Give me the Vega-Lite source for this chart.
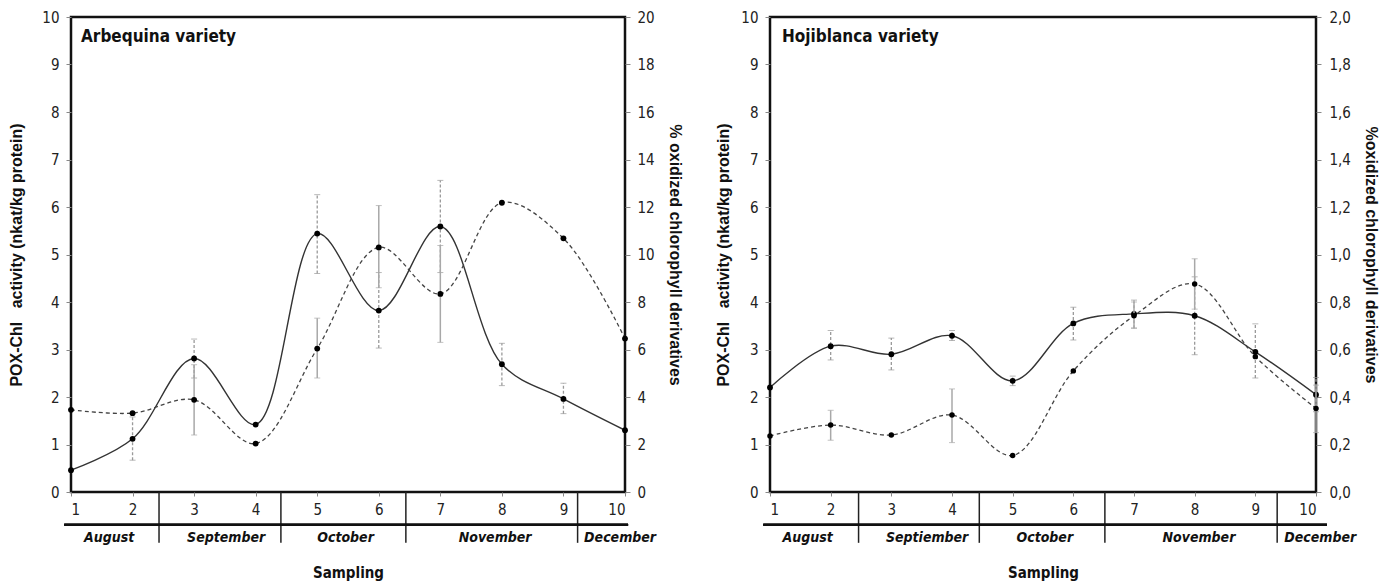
{
  "$schema": "https://vega.github.io/schema/vega-lite/v6.json",
  "padding": {"left": 7, "top": 8, "right": 5, "bottom": 4},
  "spacing": 30,
  "background": "white",
  "datasets": {
    "arb": [
      {"s": 1, "pox": 0.46, "poxLo": null, "poxHi": null, "ox": 3.46, "oxLo": null, "oxHi": null},
      {"s": 2, "pox": 1.12, "poxLo": 0.67, "poxHi": 1.58, "ox": 3.32, "oxLo": null, "oxHi": null},
      {"s": 3, "pox": 2.81, "poxLo": 2.4, "poxHi": 3.22, "ox": 3.88, "oxLo": 2.4, "oxHi": 5.36},
      {"s": 4, "pox": 1.42, "poxLo": null, "poxHi": null, "ox": 2.04, "oxLo": null, "oxHi": null},
      {"s": 5, "pox": 5.44, "poxLo": 4.6, "poxHi": 6.26, "ox": 6.04, "oxLo": 4.8, "oxHi": 7.32},
      {"s": 6, "pox": 3.82, "poxLo": 3.03, "poxHi": 4.62, "ox": 10.3, "oxLo": 8.6, "oxHi": 12.06},
      {"s": 7, "pox": 5.59, "poxLo": 4.62, "poxHi": 6.56, "ox": 8.34, "oxLo": 6.3, "oxHi": 10.38},
      {"s": 8, "pox": 2.69, "poxLo": 2.24, "poxHi": 3.13, "ox": 12.18, "oxLo": null, "oxHi": null},
      {"s": 9, "pox": 1.96, "poxLo": 1.65, "poxHi": 2.29, "ox": 10.68, "oxLo": null, "oxHi": null},
      {"s": 10, "pox": 1.3, "poxLo": null, "poxHi": null, "ox": 6.46, "oxLo": null, "oxHi": null}
    ],
    "hoj": [
      {"s": 1, "pox": 2.2, "poxLo": null, "poxHi": null, "ox": 0.236, "oxLo": null, "oxHi": null},
      {"s": 2, "pox": 3.07, "poxLo": 2.78, "poxHi": 3.4, "ox": 0.282, "oxLo": 0.218, "oxHi": 0.344},
      {"s": 3, "pox": 2.9, "poxLo": 2.57, "poxHi": 3.24, "ox": 0.24, "oxLo": null, "oxHi": null},
      {"s": 4, "pox": 3.29, "poxLo": 3.19, "poxHi": 3.4, "ox": 0.324, "oxLo": 0.208, "oxHi": 0.434},
      {"s": 5, "pox": 2.34, "poxLo": 2.24, "poxHi": 2.44, "ox": 0.154, "oxLo": null, "oxHi": null},
      {"s": 6, "pox": 3.55, "poxLo": 3.2, "poxHi": 3.89, "ox": 0.51, "oxLo": null, "oxHi": null},
      {"s": 7, "pox": 3.75, "poxLo": 3.45, "poxHi": 4.04, "ox": 0.742, "oxLo": 0.69, "oxHi": 0.8},
      {"s": 8, "pox": 3.71, "poxLo": 2.89, "poxHi": 4.53, "ox": 0.876, "oxLo": 0.77, "oxHi": 0.982},
      {"s": 9, "pox": 2.95, "poxLo": 2.4, "poxHi": 3.54, "ox": 0.57, "oxLo": null, "oxHi": null},
      {"s": 10, "pox": 2.05, "poxLo": 1.69, "poxHi": 2.41, "ox": 0.352, "oxLo": 0.25, "oxHi": 0.45}
    ],
    "arbMonths": [
      {"m": "August", "c": 1.62},
      {"m": "September", "c": 3.52},
      {"m": "October", "c": 5.46},
      {"m": "November", "c": 7.89},
      {"m": "December", "c": 9.92}
    ],
    "hojMonths": [
      {"m": "August", "c": 1.62},
      {"m": "Septiember", "c": 3.59},
      {"m": "October", "c": 5.53},
      {"m": "November", "c": 8.07},
      {"m": "December", "c": 10.07}
    ],
    "arbBounds": [{"b": 2.43}, {"b": 4.41}, {"b": 6.44}, {"b": 9.23}],
    "hojBounds": [{"b": 2.46}, {"b": 4.45}, {"b": 6.52}, {"b": 9.36}]
  },
  "hconcat": [
    {
      "width": 554,
      "height": 475,
      "title": {"text": "Arbequina variety", "anchor": "start", "frame": "group", "offset": -36, "dx": 10, "font": "Liberation Sans Narrow, DejaVu Sans Condensed, sans-serif", "fontSize": 17, "fontWeight": "bold", "color": "#111"},
      "layer": [
        {
          "layer": [
            {
              "data": {"name": "arb"},
              "mark": {"type": "line", "interpolate": "catmull-rom", "color": "#333", "strokeWidth": 1.4},
              "encoding": {
                "x": {"field": "s", "type": "quantitative", "title": "Sampling", "scale": {"domain": [1, 10], "nice": false},
                      "axis": {"values": [1, 2, 3, 4, 5, 6, 7, 8, 9, 10], "format": "d", "tickSize": 4, "labelPadding": 6, "titlePadding": 48}},
                "y": {"field": "pox", "type": "quantitative", "title": "POX-Chl\u00a0\u00a0 activity (nkat/kg protein)", "scale": {"domain": [0, 10], "nice": false},
                      "axis": {"orient": "left", "values": [0, 1, 2, 3, 4, 5, 6, 7, 8, 9, 10], "format": "d", "labelPadding": 7, "titlePadding": 17}}
              }
            },
            {
              "data": {"name": "arb"},
              "transform": [{"filter": "datum.poxLo != null"}],
              "mark": {"type": "errorbar", "color": "#9a9a9a", "ticks": {"size": 6}, "rule": {"strokeDash": [3, 2], "strokeWidth": 1.3}},
              "encoding": {
                "x": {"field": "s", "type": "quantitative", "title": "Sampling"},
                "y": {"field": "poxLo", "type": "quantitative", "title": "POX-Chl\u00a0\u00a0 activity (nkat/kg protein)"},
                "y2": {"field": "poxHi"}
              }
            },
            {
              "data": {"name": "arb"},
              "mark": {"type": "point", "filled": true, "color": "#000", "opacity": 1, "size": 34},
              "encoding": {
                "x": {"field": "s", "type": "quantitative", "title": "Sampling"},
                "y": {"field": "pox", "type": "quantitative", "title": "POX-Chl\u00a0\u00a0 activity (nkat/kg protein)"}
              }
            },
            {
              "data": {"name": "arbBounds"},
              "mark": {"type": "rule", "color": "#222", "strokeWidth": 1.5},
              "encoding": {
                "x": {"field": "b", "type": "quantitative", "title": "Sampling"},
                "y": {"datum": 0, "type": "quantitative"},
                "y2": {"datum": -1.07}
              }
            },
            {
              "data": {"name": "arbMonths"},
              "mark": {"type": "rule", "color": "#111", "strokeWidth": 2},
              "encoding": {
                "x": {"datum": 0.89, "type": "quantitative"},
                "x2": {"datum": 10.05},
                "y": {"datum": -0.69, "type": "quantitative"}
              }
            },
            {
              "data": {"name": "arbMonths"},
              "mark": {"type": "text", "font": "Liberation Sans Narrow, DejaVu Sans Condensed, sans-serif", "fontSize": 14, "fontWeight": "bold", "fontStyle": "italic", "color": "#111", "baseline": "middle", "align": "center"},
              "encoding": {
                "x": {"field": "c", "type": "quantitative", "title": "Sampling"},
                "y": {"datum": -0.97, "type": "quantitative"},
                "text": {"field": "m"}
              }
            }
          ]
        },
        {
          "data": {"name": "arb"},
          "layer": [
            {
              "mark": {"type": "line", "interpolate": "catmull-rom", "color": "#444", "strokeWidth": 1.3, "strokeDash": [4, 3]},
              "encoding": {
                "x": {"field": "s", "type": "quantitative", "title": "Sampling"},
                "y": {"field": "ox", "type": "quantitative", "title": "% oxidized chlorophyll derivatives", "scale": {"domain": [0, 20], "nice": false},
                      "axis": {"orient": "right", "values": [0, 2, 4, 6, 8, 10, 12, 14, 16, 18, 20], "format": "d", "labelPadding": 7, "titlePadding": 12}}
              }
            },
            {
              "transform": [{"filter": "datum.oxLo != null"}],
              "mark": {"type": "errorbar", "color": "#a8a8a8", "ticks": {"size": 6}, "rule": {"strokeWidth": 1.5}},
              "encoding": {
                "x": {"field": "s", "type": "quantitative", "title": "Sampling"},
                "y": {"field": "oxLo", "type": "quantitative", "title": "% oxidized chlorophyll derivatives"},
                "y2": {"field": "oxHi"}
              }
            },
            {
              "mark": {"type": "point", "filled": true, "color": "#000", "opacity": 1, "size": 34},
              "encoding": {
                "x": {"field": "s", "type": "quantitative", "title": "Sampling"},
                "y": {"field": "ox", "type": "quantitative", "title": "% oxidized chlorophyll derivatives"}
              }
            }
          ]
        }
      ],
      "resolve": {"scale": {"y": "independent"}}
    },
    {
      "width": 546,
      "height": 475,
      "title": {"text": "Hojiblanca variety", "anchor": "start", "frame": "group", "offset": -36, "dx": 12, "font": "Liberation Sans Narrow, DejaVu Sans Condensed, sans-serif", "fontSize": 17, "fontWeight": "bold", "color": "#111"},
      "layer": [
        {
          "layer": [
            {
              "data": {"name": "hoj"},
              "mark": {"type": "line", "interpolate": "catmull-rom", "color": "#333", "strokeWidth": 1.4},
              "encoding": {
                "x": {"field": "s", "type": "quantitative", "title": "Sampling", "scale": {"domain": [1, 10], "nice": false},
                      "axis": {"values": [1, 2, 3, 4, 5, 6, 7, 8, 9, 10], "format": "d", "tickSize": 4, "labelPadding": 6, "titlePadding": 48}},
                "y": {"field": "pox", "type": "quantitative", "title": "POX-Chl\u00a0\u00a0 activity (nkat/kg protein)", "scale": {"domain": [0, 10], "nice": false},
                      "axis": {"orient": "left", "values": [0, 1, 2, 3, 4, 5, 6, 7, 8, 9, 10], "format": "d", "labelPadding": 7, "titlePadding": 9}}
              }
            },
            {
              "data": {"name": "hoj"},
              "transform": [{"filter": "datum.poxLo != null"}],
              "mark": {"type": "errorbar", "color": "#9a9a9a", "ticks": {"size": 6}, "rule": {"strokeDash": [3, 2], "strokeWidth": 1.3}},
              "encoding": {
                "x": {"field": "s", "type": "quantitative", "title": "Sampling"},
                "y": {"field": "poxLo", "type": "quantitative", "title": "POX-Chl\u00a0\u00a0 activity (nkat/kg protein)"},
                "y2": {"field": "poxHi"}
              }
            },
            {
              "data": {"name": "hoj"},
              "mark": {"type": "point", "filled": true, "color": "#000", "opacity": 1, "size": 34},
              "encoding": {
                "x": {"field": "s", "type": "quantitative", "title": "Sampling"},
                "y": {"field": "pox", "type": "quantitative", "title": "POX-Chl\u00a0\u00a0 activity (nkat/kg protein)"}
              }
            },
            {
              "data": {"name": "hojBounds"},
              "mark": {"type": "rule", "color": "#222", "strokeWidth": 1.5},
              "encoding": {
                "x": {"field": "b", "type": "quantitative", "title": "Sampling"},
                "y": {"datum": 0, "type": "quantitative"},
                "y2": {"datum": -1.07}
              }
            },
            {
              "data": {"name": "hojMonths"},
              "mark": {"type": "rule", "color": "#111", "strokeWidth": 2},
              "encoding": {
                "x": {"datum": 0.89, "type": "quantitative"},
                "x2": {"datum": 10.18},
                "y": {"datum": -0.69, "type": "quantitative"}
              }
            },
            {
              "data": {"name": "hojMonths"},
              "mark": {"type": "text", "font": "Liberation Sans Narrow, DejaVu Sans Condensed, sans-serif", "fontSize": 14, "fontWeight": "bold", "fontStyle": "italic", "color": "#111", "baseline": "middle", "align": "center"},
              "encoding": {
                "x": {"field": "c", "type": "quantitative", "title": "Sampling"},
                "y": {"datum": -0.97, "type": "quantitative"},
                "text": {"field": "m"}
              }
            }
          ]
        },
        {
          "data": {"name": "hoj"},
          "layer": [
            {
              "mark": {"type": "line", "interpolate": "catmull-rom", "color": "#444", "strokeWidth": 1.3, "strokeDash": [4, 3]},
              "encoding": {
                "x": {"field": "s", "type": "quantitative", "title": "Sampling"},
                "y": {"field": "ox", "type": "quantitative", "title": "%oxidized chlorophyll derivatives", "scale": {"domain": [0, 2], "nice": false},
                      "axis": {"orient": "right", "values": [0, 0.2, 0.4, 0.6, 0.8, 1, 1.2, 1.4, 1.6, 1.8, 2], "labelExpr": "replace(format(datum.value, '.1f'), '.', ',')", "labelPadding": 8, "titlePadding": 12}}
              }
            },
            {
              "transform": [{"filter": "datum.oxLo != null"}],
              "mark": {"type": "errorbar", "color": "#a8a8a8", "ticks": {"size": 6}, "rule": {"strokeWidth": 1.5}},
              "encoding": {
                "x": {"field": "s", "type": "quantitative", "title": "Sampling"},
                "y": {"field": "oxLo", "type": "quantitative", "title": "%oxidized chlorophyll derivatives"},
                "y2": {"field": "oxHi"}
              }
            },
            {
              "mark": {"type": "point", "filled": true, "color": "#000", "opacity": 1, "size": 30},
              "encoding": {
                "x": {"field": "s", "type": "quantitative", "title": "Sampling"},
                "y": {"field": "ox", "type": "quantitative", "title": "%oxidized chlorophyll derivatives"}
              }
            }
          ]
        }
      ],
      "resolve": {"scale": {"y": "independent"}}
    }
  ],
  "config": {
    "view": {"stroke": "#111", "strokeWidth": 2.5},
    "axis": {
      "domain": false,
      "grid": false,
      "labelFont": "Liberation Sans Narrow, DejaVu Sans Condensed, sans-serif",
      "labelFontSize": 15,
      "labelColor": "#222",
      "tickColor": "#888",
      "tickSize": 5,
      "titleFont": "Liberation Sans, Arial, sans-serif",
      "titleFontWeight": "bold",
      "titleFontSize": 16,
      "titleColor": "#111"
    },
    "axisX": {"titleFont": "Liberation Sans Narrow, DejaVu Sans Condensed, sans-serif", "titleFontSize": 15}
  }
}
